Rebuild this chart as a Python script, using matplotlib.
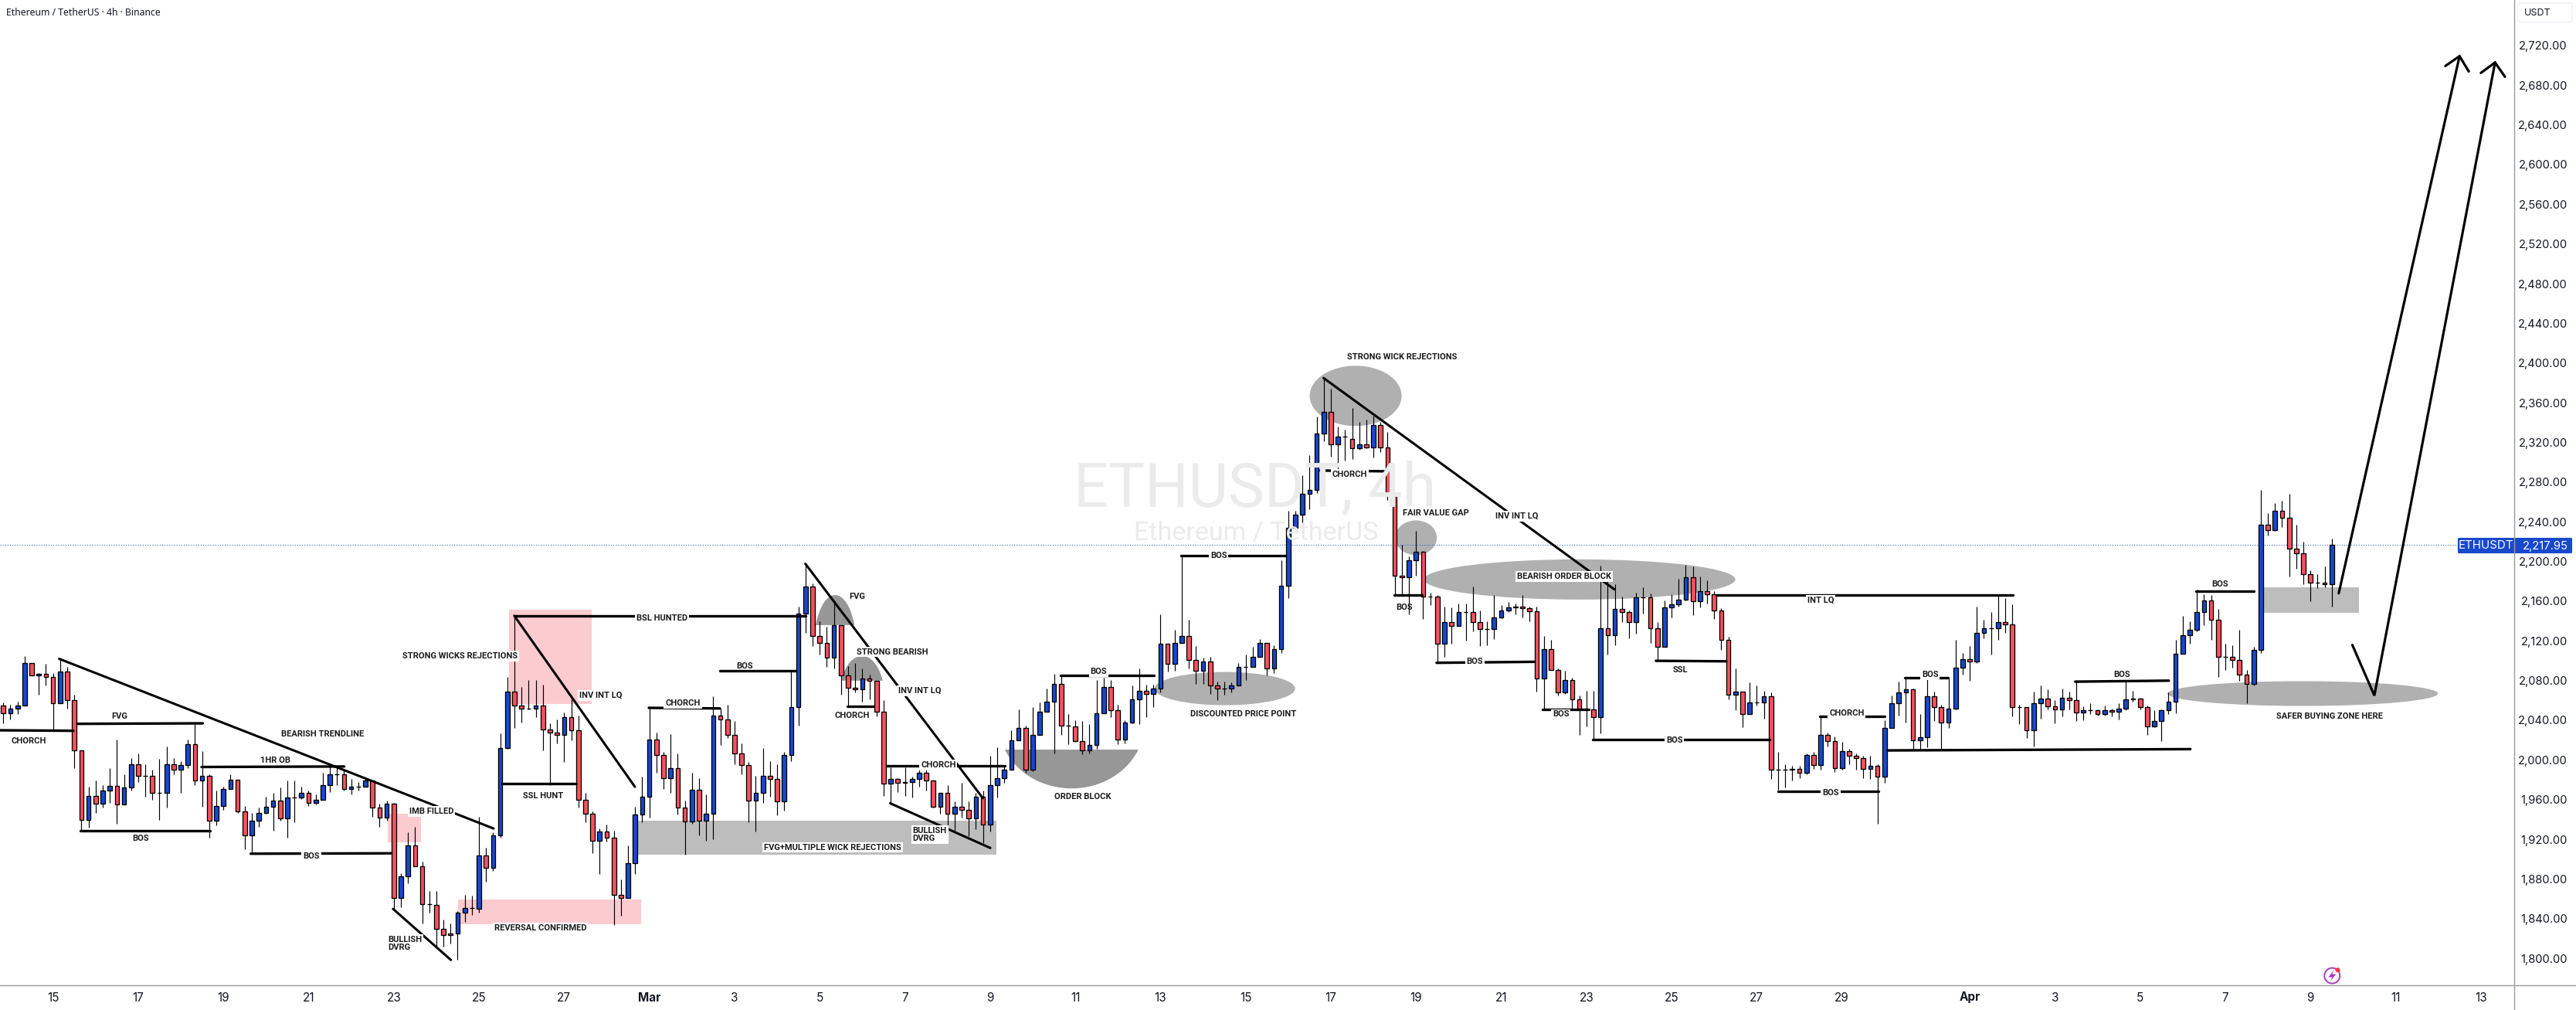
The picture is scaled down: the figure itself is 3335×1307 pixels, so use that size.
import matplotlib
matplotlib.use("Agg")
import matplotlib.pyplot as plt
from matplotlib.patches import Rectangle, Ellipse, PathPatch, FancyBboxPatch, Polygon
from matplotlib.path import Path

# 4h candles
opens = [2056,2048,2053,2056,2099,2086,2088,2085,2058,2090,
 2061,2011,1941,1965,1957,1970,1975,1956,1973,1997,
 1985,1985,1968,1968,1997,1991,1996,2017,1980,1985,
 1940,1955,1972,1981,1949,1925,1940,1948,1954,1960,
 1942,1963,1963,1968,1958,1961,1976,1987,1987,1972,
 1974,1974,1980,1953,1943,1957,1862,1884,1915,1894,
 1856,1855,1831,1826,1826,1847,1852,1851,1905,1892,
 1925,2013,2070,2056,2053,2053,2056,2032,2029,2026,
 2044,2031,1961,1947,1920,1929,1923,1865,1862,1897,
 1946,1964,2022,2006,1983,1993,1953,1939,1971,1940,
 1947,2046,2042,2026,2008,1996,1960,1968,1985,1982,
 1959,2006,2054,2149,2176,2126,2119,2104,2137,2086,
 2074,2072,2083,2081,2050,1977,1982,1978,1979,1982,
 1988,1980,1954,1968,1947,1954,1951,1942,1964,1936,
 1976,1983,1991,2021,2033,1991,2026,2050,2060,2078,
 2036,2035,2020,2011,2016,2048,2075,2051,2022,2039,
 2062,2071,2068,2073,2118,2098,2119,2126,2102,2091,
 2100,2076,2073,2073,2076,2095,2095,2105,2119,2093,
 2113,2177,2235,2248,2269,2273,2330,2352,2319,2327,
 2325,2315,2319,2316,2339,2316,2268,2187,2185,2202,
 2211,2166,2166,2118,2140,2136,2150,2150,2140,2133,
 2133,2145,2152,2155,2156,2154,2151,2083,2113,2092,
 2069,2082,2062,2052,2052,2044,2134,2127,2153,2150,
 2140,2165,2165,2134,2115,2155,2158,2163,2185,2161,
 2171,2168,2152,2122,2067,2070,2047,2059,2059,2065,
 1991,1991,1991,1992,1988,2006,1996,2026,2020,1993,
 2010,2005,2003,1992,1995,1984,2033,2058,2069,2072,
 2021,2024,2065,2054,2039,2053,2094,2103,2100,2129,
 2134,2134,2140,2138,2054,2054,2031,2058,2063,2055,
 2052,2064,2061,2049,2051,2051,2047,2051,2050,2053,
 2062,2063,2054,2035,2040,2051,2060,2108,2127,2132,
 2150,2162,2142,2105,2105,2102,2087,2078,2112,2238,
 2233,2252,2245,2214,2209,2188,2180,2180,2178]
highs = [2059,2057,2060,2106,2099,2089,2098,2089,2103,2095,
 2067,2011,1974,1980,1976,1993,2022,1987,2003,2008,
 1997,1991,2002,2015,2003,2000,2022,2038,2010,1987,
 1970,1974,1987,1981,1955,1948,1953,1964,1968,1973,
 1980,1980,1974,1970,1966,1988,1995,1994,1991,1982,
 1979,1983,1980,1957,1960,1958,1887,1928,1934,1899,
 1869,1869,1840,1836,1849,1865,1864,1944,1913,1928,
 2028,2085,2146,2075,2082,2082,2077,2038,2042,2049,
 2063,2046,1968,1949,1932,1936,1930,1881,1915,1954,
 1984,2053,2029,2009,2027,2008,1960,1988,1983,1966,
 2065,2053,2057,2040,2018,1999,1985,2013,2000,1997,
 2009,2090,2156,2199,2179,2141,2135,2159,2137,2096,
 2099,2093,2087,2081,2061,1994,1983,1994,1984,1995,
 1991,1981,1968,1976,1959,1978,1959,1968,1970,2005,
 2014,1995,2031,2052,2036,2054,2059,2073,2088,2086,
 2047,2041,2040,2037,2082,2084,2082,2057,2041,2076,
 2093,2077,2077,2148,2118,2132,2206,2142,2116,2104,
 2105,2080,2080,2079,2099,2107,2115,2123,2119,2117,
 2202,2252,2252,2288,2308,2347,2386,2375,2337,2334,
 2356,2342,2344,2348,2342,2332,2269,2218,2206,2232,
 2212,2170,2167,2156,2155,2159,2159,2176,2152,2141,
 2167,2157,2160,2159,2167,2156,2156,2126,2122,2093,
 2091,2084,2066,2071,2071,2197,2190,2178,2166,2152,
 2170,2175,2169,2140,2162,2168,2184,2198,2196,2186,
 2182,2171,2154,2125,2093,2070,2079,2076,2071,2069,
 2009,1997,1995,1995,2008,2009,2046,2029,2025,2019,
 2012,2008,2005,2005,1997,2041,2066,2080,2083,2073,
 2047,2091,2070,2057,2083,2122,2109,2116,2156,2142,
 2150,2167,2164,2158,2057,2054,2070,2076,2072,2061,
 2073,2070,2080,2055,2058,2052,2056,2053,2058,2082,
 2071,2064,2056,2051,2052,2069,2122,2146,2141,2173,
 2168,2167,2153,2118,2117,2132,2092,2115,2273,2250,
 2260,2262,2269,2238,2221,2192,2188,2196,2224]
lows = [2038,2042,2047,2056,2086,2067,2076,2031,2058,2053,
 1993,1929,1933,1948,1953,1958,1937,1956,1970,1979,
 1964,1961,1941,1953,1987,1968,1993,1976,1954,1923,
 1935,1951,1972,1948,1911,1907,1934,1947,1930,1940,
 1923,1938,1962,1955,1956,1961,1969,1976,1970,1966,
 1970,1974,1944,1934,1940,1851,1853,1877,1894,1836,
 1847,1814,1813,1816,1800,1838,1845,1847,1878,1889,
 1923,2012,2033,2039,2052,2044,2011,1976,2018,1999,
 2021,1953,1938,1907,1886,1919,1835,1844,1862,1886,
 1938,1943,1988,1972,1968,1946,1906,1937,1925,1920,
 1921,2016,2023,1997,1987,1938,1929,1958,1964,1945,
 1950,2000,2036,2129,2116,2107,2095,2093,2067,2055,
 2069,2060,2062,2045,1965,1958,1969,1965,1963,1974,
 1970,1953,1947,1935,1930,1943,1924,1931,1917,1929,
 1963,1978,1991,2021,1988,1990,2026,2050,2008,2026,
 2017,2019,2007,2008,2012,2048,2044,2017,2018,2038,
 2037,2044,2054,2069,2090,2091,2119,2093,2078,2078,
 2068,2061,2067,2069,2076,2082,2095,2105,2086,2089,
 2109,2164,2235,2234,2254,2270,2322,2307,2294,2303,
 2304,2314,2315,2306,2311,2263,2167,2167,2148,2187,
 2143,2157,2099,2105,2118,2136,2121,2131,2116,2117,
 2123,2144,2150,2148,2145,2141,2070,2052,2092,2066,
 2068,2052,2026,2035,2022,2028,2107,2117,2140,2124,
 2128,2149,2119,2101,2115,2145,2156,2162,2147,2155,
 2159,2143,2112,2062,2051,2034,2047,2056,2043,1982,
 1971,1973,1980,1983,1987,1992,1991,2015,1989,1991,
 1997,1991,1983,1982,1937,1978,2033,2046,2039,2011,
 2011,2014,2040,2011,2033,2052,2087,2081,2099,2124,
 2107,2122,2129,2045,2037,2023,2015,2043,2052,2038,
 2045,2052,2040,2041,2047,2046,2046,2045,2042,2051,
 2060,2052,2026,2034,2020,2047,2048,2108,2118,2131,
 2137,2122,2085,2092,2094,2081,2058,2076,2109,2227,
 2232,2236,2186,2194,2178,2161,2174,2175,2156]
closes = [2048,2053,2056,2099,2086,2088,2085,2058,2090,2061,
 2011,1941,1965,1957,1970,1975,1956,1973,1997,1985,
 1985,1968,1968,1997,1991,1996,2017,1980,1985,1940,
 1955,1972,1981,1949,1925,1940,1948,1954,1960,1942,
 1963,1963,1968,1958,1961,1976,1987,1987,1972,1974,
 1974,1980,1953,1943,1957,1862,1884,1915,1894,1856,
 1856,1831,1825,1825,1847,1852,1852,1905,1892,1925,
 2013,2070,2056,2053,2053,2056,2032,2029,2026,2044,
 2031,1961,1947,1920,1929,1923,1865,1862,1897,1946,
 1964,2022,2006,1983,1993,1953,1939,1971,1940,1947,
 2046,2042,2026,2008,1996,1960,1968,1985,1982,1959,
 2006,2054,2149,2176,2126,2119,2104,2137,2086,2074,
 2072,2083,2081,2050,1977,1982,1978,1979,1982,1988,
 1980,1954,1968,1947,1954,1951,1942,1964,1936,1976,
 1983,1991,2021,2033,1991,2026,2050,2060,2078,2036,
 2036,2020,2011,2016,2048,2075,2051,2022,2039,2062,
 2071,2068,2073,2118,2098,2119,2126,2102,2091,2100,
 2076,2073,2073,2076,2095,2095,2105,2119,2093,2113,
 2177,2235,2248,2269,2273,2330,2352,2319,2327,2327,
 2315,2319,2316,2339,2316,2268,2187,2185,2202,2211,
 2166,2166,2118,2140,2136,2150,2150,2140,2133,2133,
 2145,2152,2155,2156,2154,2151,2083,2113,2092,2069,
 2082,2062,2052,2052,2044,2134,2127,2153,2150,2140,
 2165,2165,2134,2115,2155,2158,2163,2185,2161,2171,
 2168,2152,2122,2067,2070,2047,2059,2059,2065,1991,
 1991,1991,1992,1988,2006,1996,2026,2020,1993,2010,
 2005,2003,1992,1995,1984,2033,2058,2069,2072,2021,
 2024,2065,2054,2039,2053,2094,2103,2100,2129,2134,
 2134,2140,2138,2054,2054,2031,2058,2063,2055,2052,
 2064,2061,2049,2051,2051,2047,2051,2050,2053,2062,
 2063,2054,2035,2040,2051,2060,2108,2127,2132,2150,
 2162,2142,2105,2105,2102,2087,2078,2112,2238,2233,
 2252,2245,2214,2209,2188,2180,2180,2178,2217.95]

last_price = 2217.95

price_ticks = list(range(1800, 2721, 40))
# candle index of each date label (6 candles per day)
date_ticks = [7, 19, 31, 43, 55, 67, 79, 91, 103, 115, 127, 139, 151, 163, 175, 187,
              199, 211, 223, 235, 247, 259, 277, 289, 301, 313, 325, 337, 349]
date_labels = ["15", "17", "19", "21", "23", "25", "27", "Mar", "3", "5", "7", "9", "11", "13",
               "15", "17", "19", "21", "23", "25", "27", "29", "Apr", "3", "5", "7", "9", "11", "13"]

# hand drawn levels: (x0, price0, x1, price1)
levels = [(-0.47, 2031, 9.87, 2030.5), (10.41, 2037.5, 28.09, 2038), (27.93, 1994, 48.02, 1994.5),
          (10.89, 1930, 29.08, 1930), (34.85, 1906.6, 54.67, 1907), (70.23, 1977, 80.66, 1977),
          (71.98, 2146, 112.98, 2146), (90.93, 2053.6, 100.94, 2053), (100.98, 2091, 111.6, 2091),
          (118.9, 2055, 122.6, 2055), (124.44, 1995, 141.07, 1995), (165.95, 2206.8, 180.6, 2206.8),
          (148.93, 2086.4, 162.05, 2086.4), (185.46, 2292.8, 194.6, 2292), (195.9, 2167, 199.85, 2167),
          (201.9, 2099, 215.7, 2100), (216.87, 2052, 223.34, 2052), (223.86, 2022, 248.8, 2022),
          (232.8, 2101, 242.7, 2100.5), (241.25, 2167, 283.1, 2167), (249.98, 1969.5, 264.1, 1969.5),
          (255.9, 2045, 265.07, 2045), (267.86, 2083.7, 273.98, 2083.7), (265.4, 2010.7, 308.08, 2012),
          (291.87, 2080, 305.05, 2081), (308.88, 2171.3, 317.04, 2171.3)]
trendlines = [(7.87, 2103, 69.06, 1932), (71.98, 2146.4, 88.97, 1974), (54.9, 1851, 63.05, 1799.5),
              (112.98, 2198.8, 137.98, 1962.6), (124.93, 1957.4, 139.03, 1912.4), (185.98, 2386, 226.94, 2173)]
arrow_paths = [([328.98, 346.0], [2169, 2710.4]), ([344.0, 346.0, 347.3], [2700.5, 2710.4, 2695]),
               ([330.9, 334.0, 351.0], [2117, 2066, 2704]), ([349.0, 351.0, 352.4], [2693.5, 2704, 2689.6])]

# zones: (x0, x1, price_low, price_high)
pink_zones = [(71.2, 82.9, 2057.5, 2152.5), (54.15, 58.8, 1918, 1947), (64.1, 89.8, 1835.5, 1860.4)]
gray_zones = [(89.4, 139.9, 1905.6, 1940), (318.5, 331.8, 2149.7, 2175.3)]
# ellipses: (x, price, width, height)
gray_ellipses = [(190.5, 2368, 12.95, 60.7), (199.0, 2225, 5.88, 35), (222.05, 2183, 43.85, 40.5),
                 (172.07, 2073, 19.8, 33.5), (323.9, 2068, 38.1, 25)]
# domes: (x0, x1, flat side, tip)
domes = [(114.44, 119.9, 2137, 2167.3), (118.03, 123.88, 2081, 2106), (141.07, 159.9, 2011.5, 1972.4)]

plain_labels = [("CHORCH", 3.61, 2020), ("FVG", 16.32, 2045), ("BEARISH TRENDLINE", 44.99, 2027),
                ("1HR OB", 38.34, 2001), ("BOS", 19.29, 1922), ("SSL HUNT", 75.99, 1965),
                ("BOS", 104.43, 2096), ("FVG", 120.3, 2166), ("CHORCH", 119.6, 2046),
                ("ORDER BLOCK", 152.1, 1964), ("DISCOUNTED PRICE POINT", 174.7, 2047),
                ("STRONG WICK REJECTIONS", 197.0, 2407), ("FAIR VALUE GAP", 201.8, 2250),
                ("BOS", 197.3, 2155), ("SSL", 236.2, 2092), ("BOS", 298.4, 2087), ("BOS", 312.3, 2178),
                ("SAFER BUYING ZONE HERE", 327.7, 2045)]
boxed_labels = [("BOS", 43.36, 1904), ("IMB FILLED", 60.32, 1949), ("STRONG WICKS REJECTIONS", 64.34, 2106),
                ("INV INT LQ", 84.15, 2066), ("REVERSAL CONFIRMED", 75.64, 1832), ("BSL HUNTED", 92.82, 2144),
                ("CHORCH", 95.72, 2058), ("STRONG BEARISH", 125.2, 2110), ("INV INT LQ", 129.1, 2071),
                ("CHORCH", 131.7, 1996), ("FVG+MULTIPLE WICK REJECTIONS", 116.8, 1913), ("BOS", 154.3, 2090),
                ("BOS", 171.2, 2207), ("CHORCH", 189.66, 2289), ("INV INT LQ", 213.2, 2247),
                ("BEARISH ORDER BLOCK", 219.85, 2186), ("BOS", 207.3, 2100), ("BOS", 219.4, 2047),
                ("BOS", 235.4, 2021), ("INT LQ", 256.0, 2162), ("CHORCH", 259.66, 2048),
                ("BOS", 257.4, 1968), ("BOS", 271.4, 2087)]
dvrg_labels = [(54.14, 1816), (128.1, 1926)]

blue = "#1848cc"
red = "#f7525f"
font = "Roboto"
label_size = 8.0

W, H = 3335, 1307
fig = plt.figure(figsize=(W / 100, H / 100), dpi=100, facecolor="white")
ax = fig.add_axes([0, (H - 1275) / H, 3255 / W, 1275 / H])
ax.set_xlim(-0.468, 353.7)
ax.set_ylim(1774, 2767)
ax.patch.set_alpha(0)

# watermark
fig.text(1625 / W, 1 - 633 / H, "ETHUSDT, 4h", color="#ebebeb", fontsize=57, family="Roboto", ha="center", va="center", zorder=0)
fig.text(1626 / W, 1 - 690 / H, "Ethereum / TetherUS", color="#ebebeb", fontsize=24.5, family="Roboto", ha="center", va="center", zorder=0)

for x0, x1, p0, p1 in pink_zones:
    ax.add_patch(Rectangle((x0, p0), x1 - x0, p1 - p0, fc="#fccbd0", ec="none", zorder=1))
for x0, x1, p0, p1 in gray_zones:
    ax.add_patch(Rectangle((x0, p0), x1 - x0, p1 - p0, fc="#bdbdbd", ec="none", zorder=1))
for x, p, w, h in gray_ellipses:
    ax.add_patch(Ellipse((x, p), w, h, fc="#b0b0b0", ec="none", zorder=1))
for x0, x1, base, tip in domes:
    w = x1 - x0
    ctrl = base + (tip - base) * 4 / 3
    verts = [(x0, base), (x0 + w * 0.2, ctrl), (x1 - w * 0.2, ctrl), (x1, base), (x0, base)]
    codes = [Path.MOVETO, Path.CURVE4, Path.CURVE4, Path.CURVE4, Path.CLOSEPOLY]
    ax.add_patch(PathPatch(Path(verts, codes), fc="#979797", ec="none", zorder=1))

# last price line
ax.axhline(last_price, color="#2456e0", lw=0.75, ls=(0, (1, 2)), zorder=2)

# candles
xs = list(range(len(opens)))
ax.vlines(xs, lows, highs, color="black", lw=0.85, zorder=3)
bottoms = [min(o, c) for o, c in zip(opens, closes)]
heights = [abs(c - o) for o, c in zip(opens, closes)]
colors = [blue if c > o else red for o, c in zip(opens, closes)]
ax.bar(xs, heights, bottom=bottoms, width=0.62, color=colors, edgecolor="black", linewidth=0.95, zorder=3.5)

for x0, p0, x1, p1 in levels:
    ax.plot([x0, x1], [p0, p1], color="black", lw=2.4, solid_capstyle="round", zorder=4)
for x0, p0, x1, p1 in trendlines:
    ax.plot([x0, x1], [p0, p1], color="black", lw=2.2, solid_capstyle="round", zorder=4)
for px_, py_ in arrow_paths:
    ax.plot(px_, py_, color="black", lw=2.3, solid_capstyle="round", solid_joinstyle="miter", zorder=4)

for txt, x, p in plain_labels:
    ax.text(x, p, txt, family=font, fontsize=label_size, fontweight="bold", color="#1a1a1a", ha="center", va="center", zorder=5)
for txt, x, p in boxed_labels:
    ax.text(x, p, txt, family=font, fontsize=label_size, fontweight="bold", color="#1a1a1a", ha="center", va="center", zorder=5,
            bbox=dict(fc="white", ec="none", pad=1.4))
for x, p in dvrg_labels:
    ax.text(x, p, "BULLISH\nDVRG", family=font, fontsize=label_size, fontweight="bold", color="#1a1a1a", ha="left", va="center",
            linespacing=1.05, zorder=5, bbox=dict(fc="white", ec="none", pad=1.4))

# axes
for s in ax.spines.values():
    s.set_visible(False)
ax.set_xticks([])
ax.set_yticks([])
for t, lab in zip(date_ticks, date_labels):
    bold = lab in ("Mar", "Apr")
    ax.annotate(lab, xy=(t, 0), xycoords=("data", "axes fraction"), xytext=(0, -16 * 0.72), textcoords="offset points",
                ha="center", va="center", family="Inter", fontsize=11, color="#131722",
                fontweight="bold" if bold else "normal", annotation_clip=False)
for p in price_ticks:
    ax.annotate(f"{p:,.2f}", xy=(1, p), xycoords=("axes fraction", "data"), xytext=(69 * 0.72, 0), textcoords="offset points",
                ha="right", va="center", family="Inter", fontsize=10.6, color="#131722", annotation_clip=False)

# last price tag
fig.add_artist(FancyBboxPatch((3183 / W, 1 - 715 / H), 146 / W, 18 / H, boxstyle="round,pad=0,rounding_size=0.0006",
                              fc=blue, ec=blue, lw=1.5, transform=fig.transFigure, mutation_aspect=H / W))
fig.text(3218 / W, 1 - 706.5 / H, "ETHUSDT", color="white", fontsize=10.8, family="Inter", ha="center", va="center")
fig.text(3325 / W, 1 - 706.5 / H, f"{last_price:,.2f}", color="white", fontsize=10.6, family="Inter", ha="right", va="center")

fig.add_artist(plt.Line2D([3255 / W, 3255 / W], [0, 1], color="#9a9a9a", lw=1))
fig.add_artist(plt.Line2D([0, 1], [1 - 1275 / H, 1 - 1275 / H], color="#9a9a9a", lw=1))

# currency button
fig.add_artist(FancyBboxPatch((3260 / W, 1 - 29 / H), 70 / W, 25 / H, boxstyle="round,pad=0,rounding_size=0.002",
                              fc="white", ec="#f0f3fa", lw=1.2, transform=fig.transFigure, mutation_aspect=H / W))
fig.text(3268 / W, 1 - 17.5 / H, "USDT", color="#131722", fontsize=9, family="Inter", ha="left", va="center")

fig.text(8 / W, 1 - 16.5 / H, "Ethereum / TetherUS \u00b7 4h \u00b7 Binance", color="#131722", fontsize=8.8,
         family="Noto Sans", fontweight="medium", ha="left", va="center")

# little purple icon near the time axis, placed in figure pixels
def px(x, y):
    return (x / W, 1 - y / H)

icon_x, icon_y = 3019.3, 1262.6
fig.add_artist(Ellipse(px(icon_x, icon_y), 20 / W, 20 / H, fc="white", ec="#a63cc0", lw=1.4, transform=fig.transFigure))
bolt = [(3, -8), (-5, 2), (0, 2), (-3, 8), (5, -2), (0, -2)]
fig.add_artist(Polygon([px(icon_x + a, icon_y + b) for a, b in bolt], closed=True, fc="#a63cc0", ec="none", transform=fig.transFigure))
fig.add_artist(Ellipse(px(3026.5, 1255.2), 6 / W, 6 / H, fc="#f23645", ec="none", transform=fig.transFigure))

fig.savefig("out.png", dpi=100)
